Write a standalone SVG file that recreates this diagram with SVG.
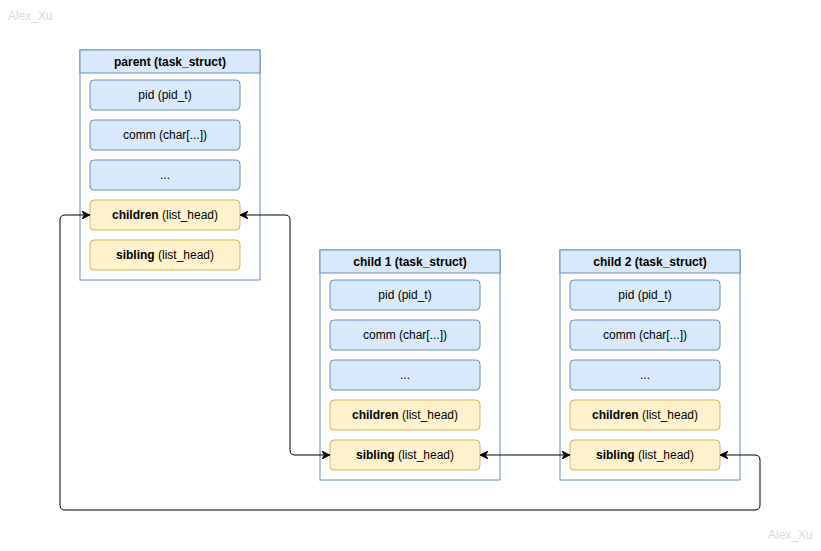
<svg xmlns="http://www.w3.org/2000/svg" width="821" height="551" viewBox="0 0 821 551">
<defs>
<style>
.box{fill:#ffffff;stroke:#6c8ebf;stroke-width:1}
.hdr{fill:#dae8fc;stroke:#6c8ebf;stroke-width:1}
.blue{fill:#dae8fc;stroke:#6c8ebf;stroke-width:1}
.yel{fill:#fff2cc;stroke:#d6b656;stroke-width:1}
text{font-family:"Liberation Sans",Arial,Helvetica,sans-serif;font-size:12px;fill:#000;text-anchor:middle;dominant-baseline:central}
.b{font-weight:bold}
.wm{fill:#d9d9d9;text-anchor:start;font-size:12px}
.conn{fill:none;stroke:#000;stroke-width:1}
</style>
<marker id="arr" viewBox="0 0 10 10" refX="10" refY="5" markerWidth="8" markerHeight="8" markerUnits="userSpaceOnUse" orient="auto-start-reverse">
<path d="M0,0 L10,5 L0,10 L3,5 Z" fill="#000" stroke="#000" stroke-width="1"/>
</marker>
</defs>
<rect width="821" height="551" fill="#ffffff"/>
<text class="wm" x="8" y="16">Alex_Xu</text>
<text class="wm" x="768" y="535">Alex_Xu</text>

<g id="parent">
<rect class="box" x="80" y="50" width="180" height="230"/>
<rect class="hdr" x="80" y="50" width="180" height="23"/>
<text class="b" x="170" y="62">parent (task_struct)</text>
<rect class="blue" x="90" y="80" width="150" height="30" rx="4"/>
<text x="165" y="95">pid (pid_t)</text>
<rect class="blue" x="90" y="120" width="150" height="30" rx="4"/>
<text x="165" y="135">comm (char[...])</text>
<rect class="blue" x="90" y="160" width="150" height="30" rx="4"/>
<text x="165" y="175">...</text>
<rect class="yel" x="90" y="200" width="150" height="30" rx="4"/>
<text x="165" y="215"><tspan class="b">children</tspan> (list_head)</text>
<rect class="yel" x="90" y="240" width="150" height="30" rx="4"/>
<text x="165" y="255"><tspan class="b">sibling</tspan> (list_head)</text>
</g>

<g id="child1">
<rect class="box" x="320" y="250" width="180" height="230"/>
<rect class="hdr" x="320" y="250" width="180" height="23"/>
<text class="b" x="410" y="262">child 1 (task_struct)</text>
<rect class="blue" x="330" y="280" width="150" height="30" rx="4"/>
<text x="405" y="295">pid (pid_t)</text>
<rect class="blue" x="330" y="320" width="150" height="30" rx="4"/>
<text x="405" y="335">comm (char[...])</text>
<rect class="blue" x="330" y="360" width="150" height="30" rx="4"/>
<text x="405" y="375">...</text>
<rect class="yel" x="330" y="400" width="150" height="30" rx="4"/>
<text x="405" y="415"><tspan class="b">children</tspan> (list_head)</text>
<rect class="yel" x="330" y="440" width="150" height="30" rx="4"/>
<text x="405" y="455"><tspan class="b">sibling</tspan> (list_head)</text>
</g>

<g id="child2">
<rect class="box" x="560" y="250" width="180" height="230"/>
<rect class="hdr" x="560" y="250" width="180" height="23"/>
<text class="b" x="650" y="262">child 2 (task_struct)</text>
<rect class="blue" x="570" y="280" width="150" height="30" rx="4"/>
<text x="645" y="295">pid (pid_t)</text>
<rect class="blue" x="570" y="320" width="150" height="30" rx="4"/>
<text x="645" y="335">comm (char[...])</text>
<rect class="blue" x="570" y="360" width="150" height="30" rx="4"/>
<text x="645" y="375">...</text>
<rect class="yel" x="570" y="400" width="150" height="30" rx="4"/>
<text x="645" y="415"><tspan class="b">children</tspan> (list_head)</text>
<rect class="yel" x="570" y="440" width="150" height="30" rx="4"/>
<text x="645" y="455"><tspan class="b">sibling</tspan> (list_head)</text>
</g>

<g id="connectors">
<path class="conn" d="M240,215 L285,215 Q290,215 290,220 L290,450 Q290,455 295,455 L330,455" marker-start="url(#arr)" marker-end="url(#arr)"/>
<path class="conn" d="M480,455 L570,455" marker-start="url(#arr)" marker-end="url(#arr)"/>
<path class="conn" d="M720,455 L755,455 Q760,455 760,460 L760,505 Q760,510 755,510 L65,510 Q60,510 60,505 L60,220 Q60,215 65,215 L90,215" marker-start="url(#arr)" marker-end="url(#arr)"/>
</g>
</svg>
